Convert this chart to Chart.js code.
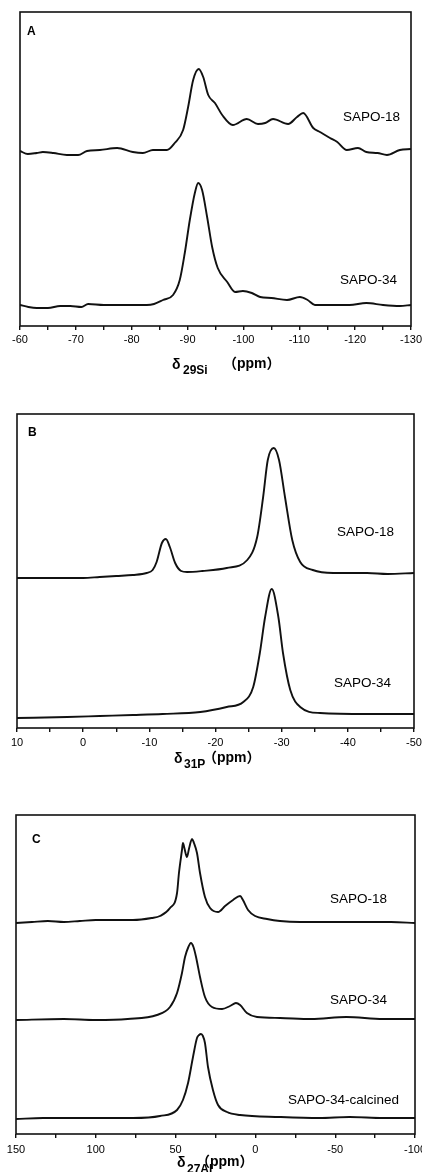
<!DOCTYPE html>
<html><head><meta charset="utf-8">
<script src="https://cdn.jsdelivr.net/npm/chart.js@4.4.1/dist/chart.umd.min.js"></script>
<style>
html,body{margin:0;padding:0;background:#fff;}
body{width:422px;height:1172px;overflow:hidden;position:relative;}
canvas{position:absolute;left:0;}
svg{position:absolute;left:0;top:0;pointer-events:none;}
svg text{font-family:"Liberation Sans",Arial,sans-serif;fill:#000;}
.cjk{font-family:"Liberation Sans","Noto Sans CJK SC",sans-serif;}
</style></head>
<body>
<canvas id="cA" width="422" height="350" style="top:0px"></canvas>
<canvas id="cB" width="422" height="360" style="top:390px"></canvas>
<canvas id="cC" width="422" height="382" style="top:790px"></canvas>
<svg width="422" height="1172" viewBox="0 0 422 1172">
  <text x="27" y="35" font-size="12" font-weight="bold">A</text>
  <text x="28" y="436" font-size="12" font-weight="bold">B</text>
  <text x="32" y="843" font-size="12" font-weight="bold">C</text>
  <text x="343" y="121" font-size="13.5">SAPO-18</text>
  <text x="340" y="284" font-size="13.5">SAPO-34</text>
  <text x="337" y="536" font-size="13.5">SAPO-18</text>
  <text x="334" y="687" font-size="13.5">SAPO-34</text>
  <text x="330" y="903" font-size="13.5">SAPO-18</text>
  <text x="330" y="1004" font-size="13.5">SAPO-34</text>
  <text x="288" y="1104" font-size="13.5">SAPO-34-calcined</text>
  <text font-weight="bold"><tspan x="172" y="369" font-size="14">δ</tspan><tspan x="183" y="374" font-size="12">29Si</tspan><tspan class="cjk" x="223" y="368" font-size="14">（ppm）</tspan></text>
  <text font-weight="bold"><tspan x="174" y="763" font-size="14">δ</tspan><tspan x="184" y="768" font-size="12">31P</tspan><tspan class="cjk" x="203" y="762" font-size="14">（ppm）</tspan></text>
  <text font-weight="bold"><tspan x="177" y="1167" font-size="14">δ</tspan><tspan x="187" y="1173" font-size="12">27Al</tspan><tspan class="cjk" x="196" y="1166" font-size="14">（ppm）</tspan></text>
</svg>
<script>
// ---------- DATA ----------
// Panel A: 29Si MAS NMR  [ppm, intensity (a.u., stacked)]
const si_SAPO18 = [[-60,175],[-61.4,172],[-63,173],[-64.1,174],[-66,173],[-68.4,171],[-70.4,171],[-72,175],[-74.3,176],[-77.4,178],[-80.2,174],[-82,173],[-83.8,176],[-86.3,176],[-87.7,183],[-89.2,196],[-90.1,219],[-91,246],[-92,257],[-92.8,249],[-93.7,231],[-94.9,223],[-96.2,211],[-98.1,201],[-100.6,207],[-102.6,202],[-103.9,203],[-105.3,207],[-108,202],[-109.6,209],[-110.7,213],[-112.5,198],[-113.7,194],[-115.5,188],[-116.8,184],[-118.5,176],[-120.5,178],[-122,174],[-124,173],[-125.7,171],[-128,176],[-130,177]];
const si_SAPO34 = [[-60,21],[-61.5,19],[-63,18],[-65,18],[-67.2,20],[-69,20],[-71,19],[-72.2,22],[-75,21],[-78,21],[-80,21],[-82.7,21],[-84,22],[-85.6,26],[-87.4,31],[-88.6,46],[-89.5,73],[-90.4,106],[-91.3,133],[-91.9,143],[-92.6,136],[-93.5,109],[-94.4,79],[-95.4,58],[-97.1,44],[-98.5,34],[-99.9,35],[-101.5,33],[-103,29],[-105,28],[-107.8,26],[-110.1,29],[-111.5,26],[-112.8,21],[-116,21],[-119,21],[-122,23],[-125,21],[-128,20],[-130,21]];
// Panel B: 31P MAS NMR
const p_SAPO18 = [[10,150],[5,150],[0,150],[-2.5,151],[-5,152],[-7.5,153],[-9.6,155],[-10.5,158],[-11.1,166],[-11.9,185],[-12.5,189],[-13.1,181],[-13.9,165],[-14.8,157],[-15.7,156],[-18,157],[-21.7,160],[-24.8,168],[-26.3,191],[-27.2,231],[-27.9,268],[-28.8,280],[-29.6,268],[-30.5,231],[-31.6,188],[-32.8,166],[-34.7,158],[-37.8,155],[-42.9,155],[-46,154],[-50,155]];
const p_SAPO34 = [[10,10],[2.4,11],[-2.5,12],[-7.5,13],[-12,14],[-17.7,16],[-21.7,21],[-24.2,26],[-25.7,41],[-26.7,75],[-27.5,111],[-28.5,139],[-29.5,111],[-30.2,75],[-31.3,38],[-32.8,21],[-35.8,15],[-42.9,14],[-50,14]];
// Panel C: 27Al MAS NMR
const al_SAPO18 = [[150,211],[140,212],[130,213],[120,212],[110,213],[100,214],[90,214],[76.7,214],[65,216],[59.8,218],[53.5,226],[49.1,241],[47.9,261],[46,284],[45.4,291],[44.5,286],[42.9,277],[41.5,286],[39.7,295],[38.5,291],[36.6,281],[34.7,261],[31.6,237],[28.4,226],[23.4,222],[19,228],[14,234],[9.6,238],[7.8,234],[4.6,224],[0.2,218],[-7.3,215],[-15.4,213],[-28,212],[-48.6,212],[-70,212],[-85,212],[-100,211]];
const al_SAPO34 = [[150,114],[120,115],[100,114],[80,115],[61.7,119],[53.5,127],[49.1,141],[46,161],[44.1,177],[42,187],[40.4,191],[38.8,187],[37.2,177],[34.7,157],[31.6,137],[27.2,127],[20.9,125],[15.9,128],[12.2,131],[9.6,129],[5.3,121],[-1,117],[-15.4,116],[-35,115],[-57,117],[-80,115],[-100,115]];
const al_SAPO34calc = [[150,15],[133,16],[110,16],[76.7,16],[59.8,18],[49.1,24],[45.4,34],[42.2,51],[39.1,77],[36.6,96],[35.3,99],[34.1,100],[32.9,98],[31.6,91],[29.7,67],[26.6,44],[23.4,29],[17.8,22],[9.6,19],[-15.4,17],[-40,16],[-59,17],[-80,16],[-100,16]];
// Tick labels
const ticksA = [-60,-70,-80,-90,-100,-110,-120,-130];
const ticksB = [10,0,-10,-20,-30,-40,-50];
const ticksC = [150,100,50,0,-50,-100];
const seriesA = ['SAPO-18','SAPO-34'];
const seriesB = ['SAPO-18','SAPO-34'];
const seriesC = ['SAPO-18','SAPO-34','SAPO-34-calcined'];

// ---------- CHARTS ----------
const framePlugin = {
  id:'frame',
  afterDraw(chart){
    const a = chart.chartArea, ctx = chart.ctx;
    ctx.save(); ctx.strokeStyle='#111'; ctx.lineWidth=1.6;
    ctx.strokeRect(a.left, a.top, a.right-a.left, a.bottom-a.top);
    ctx.restore();
  }
};

function makeChart(id, seriesData, names, xmin, xmax, step, tickLabels, ymax, pad, tickPad){
  return new Chart(document.getElementById(id), {
    type:'line',
    data:{ datasets: seriesData.map((d,i)=>({
      label:names[i],
      data:d.map(p=>({x:p[0], y:p[1]})),
      borderColor:'#111', borderWidth:1.9, pointRadius:0,
      cubicInterpolationMode:'monotone', fill:false
    }))},
    options:{
      responsive:false, animation:false, devicePixelRatio:1,
      layout:{padding:pad},
      plugins:{legend:{display:false}, tooltip:{enabled:false}, title:{display:false}},
      scales:{
        x:{ type:'linear', reverse:true, min:xmin, max:xmax,
            border:{display:false},
            grid:{display:true, drawOnChartArea:false, drawTicks:true, tickLength:4, color:'#111', lineWidth:1.4},
            ticks:{ stepSize:step, autoSkip:false, maxRotation:0, padding:tickPad, color:'#000',
              font:{family:'"Liberation Sans", Arial, sans-serif', size:11},
              callback:(v)=> tickLabels.includes(v) ? String(v) : '' },
            afterFit:(s)=>{ s.height = 22; s.paddingLeft = 0; s.paddingRight = 0; }
        },
        y:{ display:false, min:0, max:ymax }
      }
    },
    plugins:[framePlugin]
  });
}

makeChart('cA', [si_SAPO18, si_SAPO34], seriesA, -130, -60, 5, ticksA, 314, {left:20,right:11,top:12,bottom:2}, 3);
makeChart('cB', [p_SAPO18, p_SAPO34], seriesB, -50, 10, 5, ticksB, 314, {left:17,right:8,top:24,bottom:0}, 4);
makeChart('cC', [al_SAPO18, al_SAPO34, al_SAPO34calc], seriesC, -100, 150, 25, ticksC, 319, {left:16,right:7,top:25,bottom:16}, 5);
</script>
</body></html>
